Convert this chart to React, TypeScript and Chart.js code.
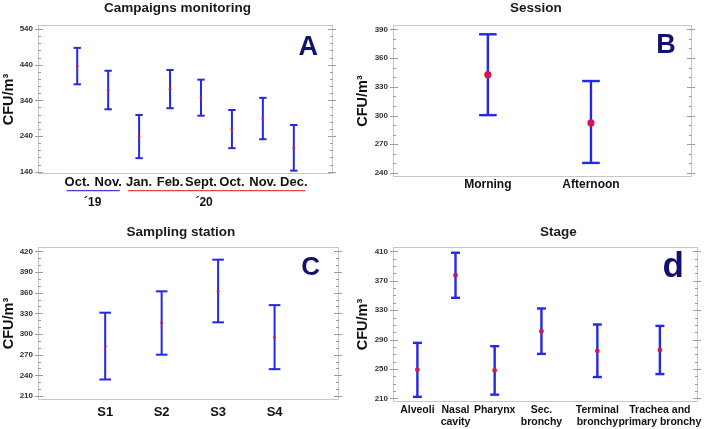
import React, { useEffect, useRef } from "react";
import { Chart, registerables } from "chart.js";

Chart.register(...registerables);

const FONT = "'Liberation Sans', Arial, Helvetica, sans-serif";
const BLUE = "#2727e6";
const RED = "#cf1a4c";
const NAVY = "#12126e";

// ---------- Panel A: campaigns monitoring ----------
const campaignLabels = ["Oct.", "Nov.", "Jan.", "Feb.", "Sept.", "Oct.", "Nov.", "Dec."];
const campaignMean = [436, 369, 238, 371, 347, 260, 289, 207];
const campaignLow = [385, 315, 178, 318, 297, 206, 231, 143];
const campaignHigh = [487, 423, 299, 425, 398, 313, 347, 271];
const campaignYears = ["´19", "´20"];
const campaignYearGroups = [[0, 1], [2, 7]];
const campaignTicks = [140, 240, 340, 440, 540];

// ---------- Panel B: session ----------
const sessionLabels = ["Morning", "Afternoon"];
const sessionMean = [342.6, 292.3];
const sessionLow = [300.4, 250.5];
const sessionHigh = [384.8, 336];
const sessionTicks = [240, 270, 300, 330, 360, 390];

// ---------- Panel C: sampling station ----------
const stationLabels = ["S1", "S2", "S3", "S4"];
const stationMean = [282, 316, 362, 295];
const stationLow = [234, 270, 317, 249];
const stationHigh = [331, 362, 408, 342];
const stationTicks = [210, 240, 270, 300, 330, 360, 390, 420];

// ---------- Panel D: stage ----------
const stageLabels = [
  ["Alveoli"],
  ["Nasal", "cavity"],
  ["Pharynx"],
  ["Sec.", "bronchy"],
  ["Terminal", "bronchy"],
  ["Trachea and", "primary bronchy"],
];
const stageMean = [249, 377.6, 248, 301.4, 274.5, 275.7];
const stageLow = [212, 346.8, 215, 270.5, 239, 243];
const stageHigh = [285.5, 408.2, 281, 332.3, 310.5, 308.6];
const stageTicks = [210, 250, 290, 330, 370, 410];

// layout: horizontal slot of each stage category on the x axis (layout, not data)
const STAGE_SLOTS = [0.48, 1.23, 2.0, 2.92, 4.02, 5.25];

type Panel = {
  box: { left: number; top: number; w: number; h: number };
  area: { l: number; t: number; r: number; b: number };
  xMin: number; xMax: number; yMin: number; yMax: number;
  positions: number[];
  labels: (string | string[])[];
  mean: number[]; low: number[]; high: number[];
  yTicks: number[]; minorStep: number;
  title: string; titleX: number; titleY: number;
  letter: string; letterSize: number; letterRight: number; letterBaseline: number;
  labelFont: number; labelLineHeight: number; labelPad: number;
  capR: number; lineW: number; dotR: number;
  extra?: (chart: any, p: Panel) => void;
};

const idx = (arr: any[]) => arr.map((_, i) => i);

function drawCampaignYears(chart: any, p: Panel) {
  const ctx = chart.ctx;
  const xs = chart.scales.x;
  const colors = ["#3f3fcf", "#e04646"];
  const yearAt = [0.5, 4.1];
  ctx.save();
  ctx.font = `bold ${p.labelFont}px ${FONT}`;
  campaignYearGroups.forEach((g, gi) => {
    const first = String(p.labels[g[0]]);
    const last = String(p.labels[g[1]]);
    const x0 = xs.getPixelForValue(p.positions[g[0]]) - ctx.measureText(first).width / 2 + 2;
    const x1 = xs.getPixelForValue(p.positions[g[1]]) + ctx.measureText(last).width / 2 - 2;
    ctx.strokeStyle = colors[gi];
    ctx.lineWidth = 1.2;
    ctx.beginPath();
    ctx.moveTo(x0, 190.7);
    ctx.lineTo(x1, 190.7);
    ctx.stroke();
  });
  ctx.fillStyle = "#111";
  ctx.font = `bold 12px ${FONT}`;
  ctx.textAlign = "center";
  ctx.textBaseline = "alphabetic";
  campaignYears.forEach((t, i) => {
    ctx.fillText(t, xs.getPixelForValue(yearAt[i]), 205.5);
  });
  ctx.restore();
}

const panels: Panel[] = [
  {
    box: { left: 0, top: 0, w: 354, h: 215 },
    area: { l: 38, t: 25, r: 333, b: 174 },
    xMin: -1.268, xMax: 8.267, yMin: 133.6, yMax: 551.2,
    positions: idx(campaignLabels), labels: campaignLabels,
    mean: campaignMean, low: campaignLow, high: campaignHigh,
    yTicks: campaignTicks, minorStep: 20,
    title: "Campaigns monitoring", titleX: 177.5, titleY: 11.5,
    letter: "A", letterSize: 27, letterRight: 318, letterBaseline: 55,
    labelFont: 13, labelLineHeight: 15.6, labelPad: 0.5,
    capR: 3.7, lineW: 2, dotR: 1.4,
    extra: drawCampaignYears,
  },
  {
    box: { left: 354, top: 0, w: 355, h: 215 },
    area: { l: 39, t: 25, r: 338, b: 177 },
    xMin: -0.92, xMax: 1.98, yMin: 235.8, yMax: 394.5,
    positions: idx(sessionLabels), labels: sessionLabels,
    mean: sessionMean, low: sessionLow, high: sessionHigh,
    yTicks: sessionTicks, minorStep: 10,
    title: "Session", titleX: 181.8, titleY: 11.7,
    letter: "B", letterSize: 27, letterRight: 321.7, letterBaseline: 53.3,
    labelFont: 12, labelLineHeight: 14.4, labelPad: 0.8,
    capR: 8.8, lineW: 2.4, dotR: 3.6,
  },
  {
    box: { left: 0, top: 215, w: 354, h: 214 },
    area: { l: 38, t: 32, r: 339, b: 185 },
    xMin: -1.19, xMax: 4.141, yMin: 204.2, yMax: 426.4,
    positions: idx(stationLabels), labels: stationLabels,
    mean: stationMean, low: stationLow, high: stationHigh,
    yTicks: stationTicks, minorStep: 10,
    title: "Sampling station", titleX: 180.8, titleY: 20.7,
    letter: "C", letterSize: 26, letterRight: 320, letterBaseline: 60,
    labelFont: 13, labelLineHeight: 15.6, labelPad: 4.4,
    capR: 5.8, lineW: 2, dotR: 1.4,
  },
  {
    box: { left: 354, top: 215, w: 355, h: 214 },
    area: { l: 39, t: 32, r: 344, b: 187 },
    xMin: 0, xMax: 6, yMin: 205, yMax: 416,
    positions: STAGE_SLOTS, labels: stageLabels,
    mean: stageMean, low: stageLow, high: stageHigh,
    yTicks: stageTicks, minorStep: 10,
    title: "Stage", titleX: 204.3, titleY: 21,
    letter: "d", letterSize: 35, letterRight: 330, letterBaseline: 61.7,
    labelFont: 10.5, labelLineHeight: 12, labelPad: 2,
    capR: 4.5, lineW: 2.4, dotR: 2.4,
  },
];

function buildConfig(p: Panel): any {
  const whisker: any[] = [];
  const caps: any[] = [];
  const means: any[] = [];
  p.positions.forEach((x, i) => {
    whisker.push({ x, y: p.low[i] }, { x, y: p.high[i] }, { x, y: null });
    caps.push({ x, y: p.low[i] }, { x, y: p.high[i] });
    means.push({ x, y: p.mean[i] });
  });

  const decor = {
    id: "decor",
    beforeDatasetsDraw(chart: any) {
      const ctx = chart.ctx;
      const { left, right, top, bottom } = chart.chartArea;
      const ys = chart.scales.y;
      ctx.save();
      ctx.strokeStyle = "#c6c6c6";
      ctx.lineWidth = 1;
      ctx.strokeRect(Math.round(left) + 0.5, Math.round(top) + 0.5,
        Math.round(right - left) - 1, Math.round(bottom - top) - 1);
      ctx.strokeStyle = "#9c9c9c";
      const step = p.minorStep;
      for (let v = Math.ceil(ys.min / step) * step; v <= ys.max + 1e-6; v += step) {
        const y = Math.round(ys.getPixelForValue(v)) + 0.5;
        const major = p.yTicks.some((t) => Math.abs(t - v) < 1e-6);
        const len = major ? 5 : 3;
        const out = major ? 3 : 0;
        ctx.beginPath();
        ctx.moveTo(left - out, y);
        ctx.lineTo(left + len, y);
        ctx.moveTo(right + out, y);
        ctx.lineTo(right - len, y);
        ctx.stroke();
      }
      ctx.restore();
    },
    afterDraw(chart: any) {
      const ctx = chart.ctx;
      ctx.save();
      ctx.fillStyle = "#1a1a1a";
      ctx.font = `bold 13.5px ${FONT}`;
      ctx.textAlign = "center";
      ctx.textBaseline = "alphabetic";
      ctx.fillText(p.title, p.titleX, p.titleY);
      ctx.fillStyle = NAVY;
      ctx.font = `bold ${p.letterSize}px ${FONT}`;
      ctx.textAlign = "right";
      ctx.fillText(p.letter, p.letterRight, p.letterBaseline);
      ctx.restore();
      if (p.extra) p.extra(chart, p);
    },
  };

  return {
    type: "scatter",
    data: {
      datasets: [
        {
          type: "scatter",
          data: means,
          pointStyle: "circle",
          pointRadius: p.dotR,
          pointHoverRadius: p.dotR,
          pointBackgroundColor: RED,
          backgroundColor: RED,
          pointBorderWidth: 0,
          borderWidth: 0,
        },
        {
          type: "scatter",
          data: caps,
          pointStyle: "line",
          pointRadius: p.capR,
          pointHoverRadius: p.capR,
          pointBorderColor: BLUE,
          borderColor: BLUE,
          pointBorderWidth: p.lineW,
          borderWidth: p.lineW,
        },
        {
          type: "line",
          data: whisker,
          borderColor: BLUE,
          borderWidth: p.lineW,
          pointRadius: 0,
          pointHoverRadius: 0,
          spanGaps: false,
          fill: false,
          tension: 0,
        },
      ],
    },
    options: {
      animation: false,
      responsive: false,
      events: [],
      layout: {
        padding: { left: 0, top: p.area.t, right: p.box.w - p.area.r, bottom: 0 },
      },
      plugins: { legend: { display: false }, tooltip: { enabled: false }, title: { display: false } },
      scales: {
        x: {
          type: "linear",
          min: p.xMin,
          max: p.xMax,
          grid: { display: false, drawTicks: false },
          border: { display: false },
          afterBuildTicks: (s: any) => {
            s.ticks = p.positions.map((v) => ({ value: v }));
          },
          afterFit: (s: any) => {
            s.height = p.box.h - p.area.b;
            s.paddingLeft = 0;
            s.paddingRight = 0;
          },
          ticks: {
            autoSkip: false,
            maxRotation: 0,
            minRotation: 0,
            padding: p.labelPad,
            color: "#111",
            font: { family: FONT, size: p.labelFont, weight: "bold", lineHeight: `${p.labelLineHeight}px` },
            callback: (_v: any, i: number) => p.labels[i],
          },
        },
        y: {
          type: "linear",
          min: p.yMin,
          max: p.yMax,
          grid: { display: false, drawTicks: false },
          border: { display: false },
          afterBuildTicks: (s: any) => {
            s.ticks = p.yTicks.map((v) => ({ value: v }));
          },
          afterFit: (s: any) => {
            s.width = p.area.l;
            s.paddingTop = 0;
            s.paddingBottom = 0;
          },
          ticks: {
            padding: 5,
            color: "#333",
            font: { family: FONT, size: 8, weight: "bold" },
          },
          title: {
            display: true,
            text: "CFU/m³",
            color: "#111",
            padding: { top: 0, bottom: 0 },
            font: { family: FONT, size: 14.5, weight: "bold", lineHeight: 1.2 },
          },
        },
      },
    },
    plugins: [decor],
  };
}

function PanelChart({ p }: { p: Panel }) {
  const ref = useRef<HTMLCanvasElement>(null);
  useEffect(() => {
    const chart = new Chart(ref.current as HTMLCanvasElement, buildConfig(p));
    return () => chart.destroy();
  }, [p]);
  return (
    <canvas
      ref={ref}
      width={p.box.w}
      height={p.box.h}
      style={{ position: "absolute", left: p.box.left, top: p.box.top, width: p.box.w, height: p.box.h }}
    />
  );
}

export default function App() {
  return (
    <div style={{ position: "fixed", left: 0, top: 0, width: 709, height: 429, background: "#fff", overflow: "hidden" }}>
      {panels.map((p, i) => (
        <PanelChart key={i} p={p} />
      ))}
    </div>
  );
}
